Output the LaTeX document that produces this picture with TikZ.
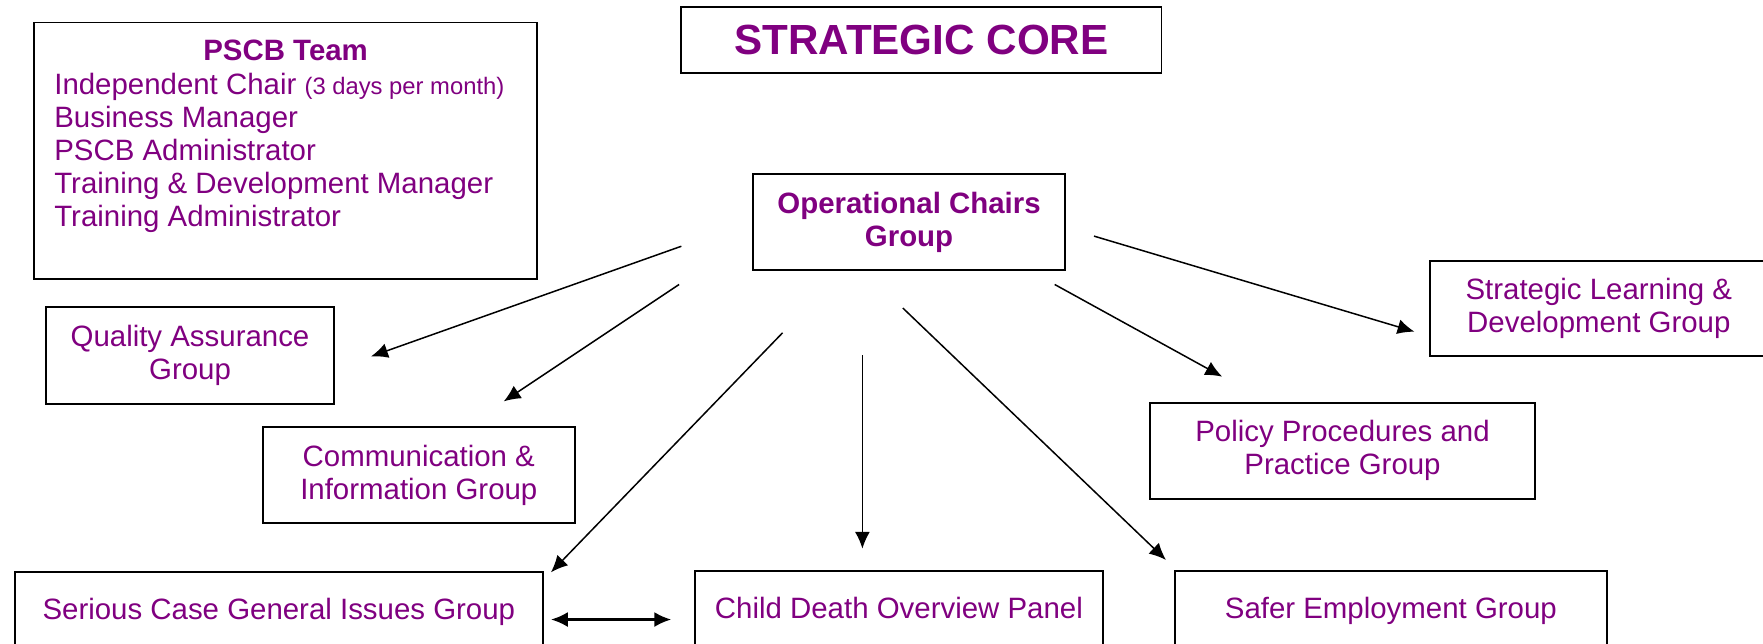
\documentclass[tikz,border=0pt]{standalone}
\usepackage{fontspec}
\setmainfont{Liberation Sans}
\usetikzlibrary{calc}
\usetikzlibrary{arrows.meta}

\definecolor{boardpurple}{RGB}{128,0,128}
\newcommand{\bodyfont}{\fontsize{15.7}{17.6}\selectfont}

\tikzset{
  groupbox/.style={draw, line width=1.05pt, text=boardpurple, align=center,
    inner sep=0pt, font=\bodyfont},
  oneline/.style={text height=13pt, text depth=1.8pt},
  link/.style={line width=0.8pt, -{Latex[length=9pt,width=8pt]}},
}

\begin{document}
\begin{tikzpicture}[x=0.6pt, y=-0.6pt]
  \useasboundingbox (0,0) rectangle (1568,572);
  \clip (0,0) rectangle (1568,572);

  % team box
  \node [groupbox, minimum width=448*0.6pt, minimum height=228*0.6pt] (team) at (254,134) {};
  \node [text=boardpurple, font=\bodyfont\bfseries] (teamtitle) at (254,45) {PSCB Team};
  \node [text=boardpurple, font=\bodyfont, align=left, anchor=west, inner sep=0pt] (teamlist) at (48,136)
    {Independent Chair {\fontsize{12.7}{17.6}\selectfont (3 days per month)}\\
     Business Manager\\ PSCB Administrator\\ Training \& Development Manager\\ Training Administrator};

  \node [groupbox, font=\fontsize{22.5}{26}\selectfont\bfseries, minimum width=427*0.6pt, minimum height=59*0.6pt] (core) at (819.5,35.5) {STRATEGIC CORE};
  \node [groupbox, font=\bodyfont\bfseries, minimum width=277*0.6pt, minimum height=85*0.6pt] (chairs) at (808.5,197.5) {Operational Chairs\\ Group};

  \node [groupbox, minimum width=256*0.6pt, minimum height=86*0.6pt] (quality) at (169,316) {Quality Assurance\\ Group};
  \node [groupbox, minimum width=277*0.6pt, minimum height=85*0.6pt] (comms) at (372.5,422.5) {Communication \&\\ Information Group};
  \node [groupbox, oneline, minimum width=470*0.6pt, minimum height=66*0.6pt] (serious) at (248,542) {Serious Case General Issues Group};
  \node [groupbox, oneline, minimum width=363*0.6pt, minimum height=66*0.6pt] (death) at (799.5,541) {Child Death Overview Panel};
  \node [groupbox, oneline, minimum width=384*0.6pt, minimum height=66*0.6pt] (safer) at (1237,541) {Safer Employment Group};
  \node [groupbox, minimum width=342*0.6pt, minimum height=86*0.6pt] (policy) at (1194,401) {Policy Procedures and\\ Practice Group};
  \node [groupbox, minimum width=300*0.6pt, minimum height=85*0.6pt] (learning) at (1422,274.5) {Strategic Learning \&\\ Development Group};

  % arrow ends
  \coordinate (qa-from) at (606,219);   \coordinate (qa-to) at (330,317);
  \coordinate (ci-from) at (604,253);   \coordinate (ci-to) at (448,357);
  \coordinate (sc-from) at (696,296);   \coordinate (sc-to) at (490,509);
  \coordinate (cd-from) at (767,316);   \coordinate (cd-to) at (767,488);
  \coordinate (se-from) at (803,274);   \coordinate (se-to) at (1037,498);
  \coordinate (pp-from) at (938,253);   \coordinate (pp-to) at (1087,335);
  \coordinate (sl-from) at (973,210);   \coordinate (sl-to) at (1258,295);
  \coordinate (sc-side) at (490,551);   \coordinate (cd-side) at (597,551);

  \foreach \g in {qa,ci,sc,cd,se,pp,sl}
    \draw [link] (\g-from) -- (\g-to);
  \draw [link, {Latex[length=9pt,width=8pt]}-{Latex[length=9pt,width=8pt]}, line width=1.3pt] (sc-side) -- (cd-side);
\end{tikzpicture}
\end{document}
